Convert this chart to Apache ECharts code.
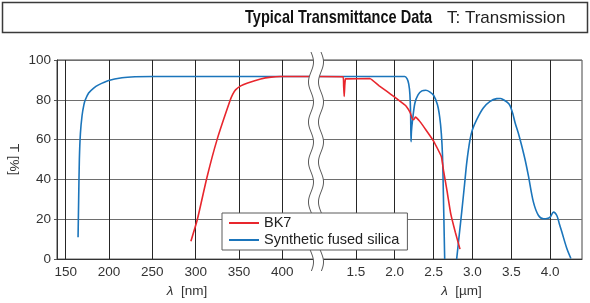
<!DOCTYPE html>
<html><head><meta charset="utf-8">
<script src="https://cdn.jsdelivr.net/npm/echarts@6/dist/echarts.min.js"></script>
<style>html,body{margin:0;padding:0;background:#fff}#c{width:590px;height:303px}</style>
</head><body><div id="c"></div>
<script>
// ---- texts ----
const titleText = 'Typical Transmittance Data';
const noteText = 'T: Transmission';
const yName = 'T [%]';
const seriesNames = ['BK7', 'Synthetic fused silica'];
// ---- ticks ----
const yTicks = [0, 20, 40, 60, 80, 100];
const nmTicks = [150, 200, 250, 300, 350, 400];
const umTicks = [1.5, 2.0, 2.5, 3.0, 3.5, 4.0];
// ---- BK7, UV/visible part (nm) ----
const bk7NmX = [294.5, 302, 313, 324.7, 340, 343, 346, 352, 360, 375, 387, 398, 440];
const bk7NmT = [9, 20, 41, 60, 80, 83, 85, 87, 88.5, 90.5, 91.4, 91.7, 91.7];
// ---- BK7, IR part (µm) ----
const bk7UmX = [1.0, 1.335, 1.343, 1.35, 1.357, 1.365, 1.37, 1.68, 1.8, 1.9, 2.0, 2.1, 2.15, 2.2, 2.225, 2.245, 2.265, 2.285, 2.32, 2.4, 2.5, 2.6, 2.63, 2.67, 2.72, 2.78, 2.84];
const bk7UmT = [91.7, 91.6, 87, 81.7, 87, 90.5, 90.7, 90.7, 87, 84.2, 81.3, 78.3, 76.7, 73.5, 70.5, 70, 71.3, 70.8, 69.3, 65, 59.3, 51.5, 44, 35, 23, 13.5, 5];
// ---- Synthetic fused silica, UV/visible part (nm) ----
const silNmX = [164.3, 165, 165.8, 167, 168.9, 171, 172.7, 176.5, 182, 188, 199.6, 215, 230, 250, 440];
const silNmT = [11, 30, 50, 63, 72, 77.5, 80, 83.4, 85.8, 87.5, 89.7, 91.1, 91.6, 91.7, 91.7];
// ---- Synthetic fused silica, IR part (µm), two pieces ----
const silUmX1 = [1.0, 2.13, 2.16, 2.18, 2.195, 2.205, 2.21, 2.215, 2.23, 2.26, 2.3, 2.35, 2.4, 2.45, 2.5, 2.55, 2.58, 2.6, 2.615, 2.625, 2.643];
const silUmT1 = [91.7, 91.7, 90.5, 88, 83, 72, 59, 64, 70, 78.4, 82.5, 84.5, 84.8, 84, 82.3, 77.5, 71, 63, 52, 35, 0];
const silUmX2 = [2.797, 2.83, 2.862, 2.9, 2.927, 2.969, 3.0, 3.055, 3.14, 3.227, 3.313, 3.36, 3.4, 3.45, 3.485, 3.52, 3.549, 3.6, 3.635, 3.68, 3.72, 3.785, 3.85, 3.914, 3.96, 4.0, 4.043, 4.086, 4.12, 4.15, 4.215, 4.267];
const silUmT2 = [0, 12, 23.6, 38, 48.5, 60, 65, 70.1, 75.9, 79.2, 80.6, 80.7, 80, 78.7, 77, 73, 68.5, 62, 56.8, 49.5, 41.9, 28.6, 21.9, 20.3, 20.4, 21.1, 23.6, 21.9, 17.5, 13.7, 5.3, 0.3];

const RED = '#e8262d', BLUE = '#1b75bb';
const zip = (xs, ys) => xs.map((x, i) => [x, ys[i]]);
const FONT = 'Liberation Sans, Arial, Helvetica, sans-serif';

// break decoration (wavy double line)
function wave(x0, y0, y1) {
  const pts = [];
  for (let y = y0; y <= y1; y += 1) pts.push([x0 + 2.5 * Math.sin((y - 52) / 40 * 2 * Math.PI), y]);
  return pts;
}
const wl = wave(311, 52, 271), wr = wave(321, 52, 271);
const band = wl.concat(wr.slice().reverse());

const chart = echarts.init(document.getElementById('c'), null, {renderer: 'canvas'});
const vSplit = {show: true, lineStyle: {color: '#262626', width: 1}};
const hSplit = {show: true, lineStyle: {color: '#6e6e6e', width: 1.2}};
const tickLabel = {color: '#333', fontSize: 13.5, fontFamily: FONT, margin: 6};
const nameRich = {i: {fontStyle: 'italic', fontSize: 13.5, fontFamily: FONT, color: '#333'}};

chart.setOption({
  animation: false,
  backgroundColor: '#fff',
  grid: [
    {left: 57, width: 260, top: 60, height: 201, show: true, borderColor: '#444', borderWidth: 1, backgroundColor: 'transparent'},
    {left: 317, width: 265, top: 60, height: 201, show: true, borderColor: '#444', borderWidth: 1, backgroundColor: 'transparent'}
  ],
  xAxis: [
    {type: 'value', gridIndex: 0, min: 140, max: 440,
     axisLine: {show: true, lineStyle: {color: '#333', width: 1}},
     axisTick: {show: false, customValues: nmTicks},
     axisLabel: Object.assign({customValues: nmTicks, showMinLabel: true, showMaxLabel: true}, tickLabel),
     splitLine: vSplit,
     name: '{i|λ}  [nm]', nameLocation: 'middle', nameGap: 24,
     nameTextStyle: {color: '#333', fontSize: 13.5, fontFamily: FONT, rich: nameRich}},
    {type: 'value', gridIndex: 1, min: 1.0, max: 4.41,
     axisLine: {show: true, lineStyle: {color: '#333', width: 1}},
     axisTick: {show: false, customValues: umTicks},
     axisLabel: Object.assign({customValues: umTicks, formatter: v => v.toFixed(1)}, tickLabel),
     splitLine: vSplit,
     name: '{i|λ}  [µm]', nameLocation: 'middle', nameGap: 24,
     nameTextStyle: {color: '#333', fontSize: 13.5, fontFamily: FONT, rich: nameRich, padding: [0, 0, 0, 24]}}
  ],
  yAxis: [
    {type: 'value', gridIndex: 0, min: 0, max: 100, interval: 20,
     axisLine: {show: true, lineStyle: {color: '#333', width: 1}},
     axisTick: {show: true, length: 3, lineStyle: {color: '#555'}},
     axisLabel: tickLabel, splitLine: hSplit,
     name: yName, nameLocation: 'middle', nameRotate: -90, nameGap: 36,
     nameTextStyle: {color: '#333', fontSize: 13.5, fontFamily: FONT}},
    {type: 'value', gridIndex: 1, min: 0, max: 100, interval: 20,
     axisLine: {show: false}, axisTick: {show: false}, axisLabel: {show: false},
     splitLine: hSplit}
  ],
  legend: {
    data: seriesNames, orient: 'vertical', left: 222, top: 213, z: 60,
    icon: 'rect', itemWidth: 30, itemHeight: 2, itemGap: 1,
    backgroundColor: '#fff', borderColor: '#5a5a5a', borderWidth: 1,
    padding: [2, 8, 2, 7],
    textStyle: {color: '#222', fontSize: 14.5, fontFamily: FONT, lineHeight: 16}
  },
  graphic: [
    {type: 'rect', shape: {x: 2.5, y: 2.5, width: 585, height: 30}, style: {fill: '#fff', stroke: '#3a3a3a', lineWidth: 1.5}, z: 1},
    {type: 'text', x: 245, y: 18, scaleX: 0.765, originX: 0, originY: 0, z: 2,
     style: {text: titleText, font: 'bold 19px ' + FONT, fill: '#111', verticalAlign: 'middle', textAlign: 'left'}},
    {type: 'text', x: 447, y: 18, z: 2,
     style: {text: noteText, font: '17px ' + FONT, fill: '#222', verticalAlign: 'middle', textAlign: 'left'}},
    {type: 'polygon', shape: {points: band}, style: {fill: '#fff', stroke: null}, z: 50},
    {type: 'polyline', shape: {points: wl}, style: {fill: null, stroke: '#5a5a5a', lineWidth: 1}, z: 51},
    {type: 'polyline', shape: {points: wr}, style: {fill: null, stroke: '#5a5a5a', lineWidth: 1}, z: 51}
  ],
  series: [
    {name: seriesNames[1], type: 'line', xAxisIndex: 0, yAxisIndex: 0, data: zip(silNmX, silNmT), symbol: 'none', smooth: 0.3, lineStyle: {color: BLUE, width: 1.6}, itemStyle: {color: BLUE}},
    {name: seriesNames[1], type: 'line', xAxisIndex: 1, yAxisIndex: 1, data: zip(silUmX1, silUmT1), symbol: 'none', smooth: 0.3, lineStyle: {color: BLUE, width: 1.6}, itemStyle: {color: BLUE}},
    {name: seriesNames[1], type: 'line', xAxisIndex: 1, yAxisIndex: 1, data: zip(silUmX2, silUmT2), symbol: 'none', smooth: 0.3, lineStyle: {color: BLUE, width: 1.6}, itemStyle: {color: BLUE}},
    {name: seriesNames[0], type: 'line', xAxisIndex: 0, yAxisIndex: 0, data: zip(bk7NmX, bk7NmT), symbol: 'none', smooth: 0.2, lineStyle: {color: RED, width: 1.6}, itemStyle: {color: RED}},
    {name: seriesNames[0], type: 'line', xAxisIndex: 1, yAxisIndex: 1, data: zip(bk7UmX, bk7UmT), symbol: 'none', smooth: 0.1, lineStyle: {color: RED, width: 1.6}, itemStyle: {color: RED}}
  ]
});
</script></body></html>
